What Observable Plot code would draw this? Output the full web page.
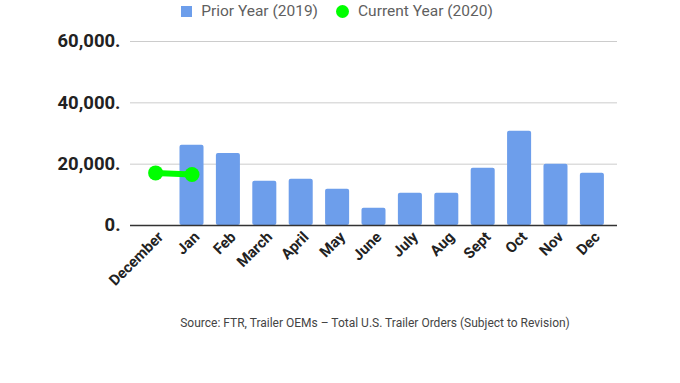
<!DOCTYPE html>
<html>
<head>
<meta charset="utf-8">
<script src="https://cdn.jsdelivr.net/npm/d3@7"></script>
<script src="https://cdn.jsdelivr.net/npm/@observablehq/plot@0.6"></script>
<style>
  html, body { margin: 0; padding: 0; background: #fff; width: 680px; height: 383px; overflow: hidden; font-family: Roboto, sans-serif; }
  #legend { height: 22px; display: flex; justify-content: center; align-items: center; gap: 18px; font-size: 15.5px; color: #5f5f5f; padding-right: 6px; box-sizing: border-box; }
  .item { display: flex; align-items: center; gap: 9px; }
  .sq { width: 11px; height: 11px; background: #6d9eeb; }
  .ci { width: 13px; height: 13px; border-radius: 50%; background: #00ff00; }
  #caption { font-size: 12px; color: #444; text-align: center; padding-left: 70px; margin-top: 14px; }
</style>
</head>
<body>
<div id="legend"></div>
<div id="chart"></div>
<div id="caption"></div>
<script>
const months = ["December","Jan","Feb","March","April","May","June","July","Aug","Sept","Oct","Nov","Dec"];
const priorYear = [null, 26200, 23500, 14450, 15100, 11850, 5650, 10500, 10500, 18700, 30750, 20000, 17050];
const currentMonths = ["December","Jan"];
const currentYear = [17150, 16650];
const yTicks = [0, 20000, 40000, 60000];
const seriesNames = ["Prior Year (2019)", "Current Year (2020)"];
const captionText = "Source: FTR, Trailer OEMs \u2013 Total U.S. Trailer Orders (Subject to Revision)";

const barData = months.map((m, i) => ({month: m, value: priorYear[i]})).filter(d => d.value != null);
const lineData = currentMonths.map((m, i) => ({month: m, value: currentYear[i]}));

document.getElementById("legend").innerHTML =
  `<div class="item"><div class="sq"></div><span>${seriesNames[0]}</span></div>` +
  `<div class="item"><div class="ci"></div><span>${seriesNames[1]}</span></div>`;
document.getElementById("caption").textContent = captionText;

const chart = Plot.plot({
  width: 680,
  height: 280,
  marginTop: 19,
  marginBottom: 77,
  marginLeft: 130,
  marginRight: 63,
  style: {fontFamily: "Roboto, sans-serif", background: "#fff", overflow: "visible"},
  x: {domain: months, paddingInner: 0.34, paddingOuter: 0.36, round: false, label: null, tickSize: 0, tickPadding: 8, tickRotate: -45},
  y: {domain: [0, 60000], ticks: yTicks, grid: true, label: null, tickSize: 0, tickPadding: 10, tickFormat: d => d3.format(",")(d) + "."},
  marks: [
    Plot.barY(barData, {x: "month", y: "value", fill: "#6d9eeb", rx: 2}),
    Plot.ruleY([0], {stroke: "#333", strokeWidth: 1.5}),
    Plot.line(lineData, {x: "month", y: "value", stroke: "#00ff00", strokeWidth: 6}),
    Plot.dot(lineData, {x: "month", y: "value", fill: "#00ff00", r: 7.5})
  ]
});
document.getElementById("chart").appendChild(chart);

const svg = d3.select(chart.tagName.toLowerCase() === "svg" ? chart : chart.querySelector("svg"));
svg.selectAll('[aria-label^="y-axis"] text').attr("font-size", 18.5).attr("font-weight", "bold").attr("fill", "#222");
svg.selectAll('[aria-label^="x-axis"] text').attr("font-size", 15).attr("font-weight", "bold").attr("fill", "#222");
svg.selectAll('[aria-label^="x-axis"]').each(function() {
  const t = this.getAttribute("transform") || "";
  this.setAttribute("transform", t + " translate(5,1)");
});
svg.selectAll('[aria-label^="y-grid"] line, [aria-label^="y-axis"] line').attr("stroke", "#ccc").attr("stroke-opacity", 1);
</script>
</body>
</html>
